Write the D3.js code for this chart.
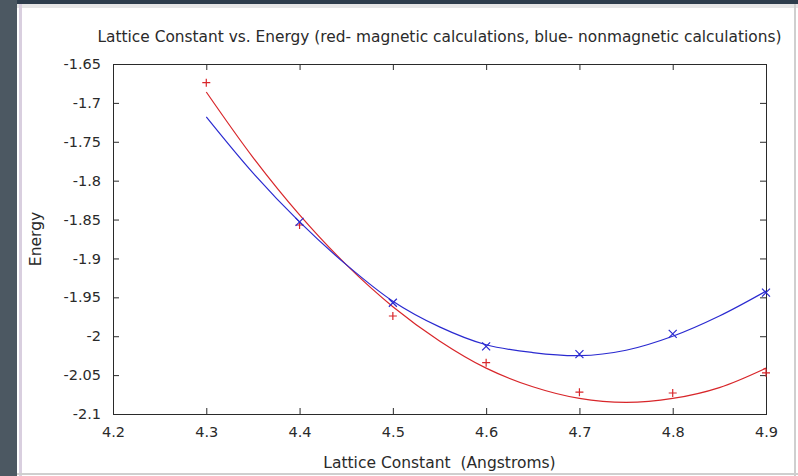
<!DOCTYPE html>
<html><head><meta charset="utf-8">
<script src="https://cdn.jsdelivr.net/npm/d3@7"></script>
<style>html,body{margin:0;padding:0;background:#fff;}svg{display:block;}</style>
</head><body>
<script>
// ---- data ----
const xTicks = [4.2, 4.3, 4.4, 4.5, 4.6, 4.7, 4.8, 4.9];
const yTicks = [-1.65, -1.7, -1.75, -1.8, -1.85, -1.9, -1.95, -2, -2.05, -2.1];
const magX = [4.3, 4.4, 4.5, 4.6, 4.7, 4.8, 4.9];
const magE = [-1.674, -1.857, -1.974, -2.034, -2.072, -2.073, -2.047];
const nonX = [4.4, 4.5, 4.6, 4.7, 4.8, 4.9];
const nonE = [-1.853, -1.957, -2.013, -2.023, -1.997, -1.944];
const fitX = [4.3, 4.35, 4.4, 4.45, 4.5, 4.55, 4.6, 4.65, 4.7, 4.75, 4.8, 4.85, 4.9];
const magFit = [-1.686, -1.770, -1.844, -1.908, -1.962, -2.006, -2.041, -2.065, -2.080, -2.085, -2.080, -2.066, -2.041];
const nonFit = [-1.718, -1.790, -1.853, -1.908, -1.955, -1.988, -2.011, -2.021, -2.025, -2.018, -2.000, -1.974, -1.942];
const title = "Lattice Constant vs. Energy (red- magnetic calculations, blue- nonmagnetic calculations)";
const xLabel = "Lattice Constant  (Angstroms)";
const yLabel = "Energy";

const W = 798, H = 476;
const L = 113, R = 766, T = 64, B = 414;
const FONT = "DejaVu Sans, sans-serif";
const red = "#d8262a", blue = "#2a2ad0";
const ink = "#2a2a2a";

const svg = d3.select("body").append("svg").attr("width", W).attr("height", H);

// window frame
svg.append("rect").attr("x",0).attr("y",0).attr("width",W).attr("height",H).attr("fill","#ffffff");
svg.append("rect").attr("x",0).attr("y",0).attr("width",W).attr("height",4).attr("fill","#2e3d4c");
svg.append("rect").attr("x",0).attr("y",0).attr("width",17).attr("height",H).attr("fill","#4c5862");
svg.append("rect").attr("x",17).attr("y",4).attr("width",W-17).attr("height",4).attr("fill","#e6e6e6");
svg.append("rect").attr("x",19).attr("y",4).attr("width",3).attr("height",H-4).attr("fill","#d9cfdf");
svg.append("rect").attr("x",794).attr("y",4).attr("width",2).attr("height",H-4).attr("fill","#cfcfcf");
svg.append("rect").attr("x",17).attr("y",473).attr("width",W-17).attr("height",2).attr("fill","#cfcfcf");

const x = d3.scaleLinear().domain([4.2, 4.9]).range([L, R]);
const y = d3.scaleLinear().domain([-2.1, -1.65]).range([B, T]);

const fmt = d => String(d);

function styleAxis(g){
  g.select(".domain").remove();
  g.selectAll(".tick line").attr("stroke",ink).attr("stroke-width",1);
  g.selectAll("text").attr("font-family",FONT).attr("font-size",14.5).attr("fill",ink);
}

svg.append("g").attr("transform",`translate(${L},0)`)
  .call(d3.axisLeft(y).tickValues(yTicks).tickFormat(fmt).tickSize(-6).tickPadding(12)).call(styleAxis);
svg.append("g").attr("transform",`translate(${R},0)`)
  .call(d3.axisRight(y).tickValues(yTicks).tickFormat("").tickSize(-6)).call(styleAxis);
svg.append("g").attr("transform",`translate(0,${B})`)
  .call(d3.axisBottom(x).tickValues(xTicks).tickFormat(fmt).tickSize(-6).tickPadding(13)).call(styleAxis);
svg.append("g").attr("transform",`translate(0,${T})`)
  .call(d3.axisTop(x).tickValues(xTicks).tickFormat("").tickSize(-6)).call(styleAxis);

svg.append("rect").attr("x",L+0.5).attr("y",T+0.5).attr("width",R-L).attr("height",B-T)
  .attr("fill","none").attr("stroke",ink).attr("stroke-width",1);

// fitted curves
const line = d3.line().x(d=>x(d[0])).y(d=>y(d[1])).curve(d3.curveCatmullRom);
svg.append("path").datum(fitX.map((v,i)=>[v,magFit[i]])).attr("d",line)
  .attr("fill","none").attr("stroke",red).attr("stroke-width",1.2);
svg.append("path").datum(fitX.map((v,i)=>[v,nonFit[i]])).attr("d",line)
  .attr("fill","none").attr("stroke",blue).attr("stroke-width",1.2);

// markers
const s = 4;
svg.append("g").selectAll("path").data(magX.map((v,i)=>[v,magE[i]])).join("path")
  .attr("d",d=>{const cx=x(d[0]),cy=y(d[1]);return `M${cx-s},${cy}H${cx+s}M${cx},${cy-s}V${cy+s}`;})
  .attr("stroke",red).attr("stroke-width",1.2).attr("fill","none");
svg.append("g").selectAll("path").data(nonX.map((v,i)=>[v,nonE[i]])).join("path")
  .attr("d",d=>{const cx=x(d[0]),cy=y(d[1]);return `M${cx-s},${cy-s}L${cx+s},${cy+s}M${cx-s},${cy+s}L${cx+s},${cy-s}`;})
  .attr("stroke",blue).attr("stroke-width",1.2).attr("fill","none");

// texts
svg.append("text").attr("x",(L+R)/2).attr("y",42).attr("text-anchor","middle")
  .attr("font-family",FONT).attr("font-size",15.5).attr("fill",ink)
  .attr("textLength",684).attr("lengthAdjust","spacingAndGlyphs").text(title);
svg.append("text").attr("x",(L+R)/2).attr("y",468).attr("text-anchor","middle")
  .attr("font-family",FONT).attr("font-size",15.5).attr("fill",ink)
  .style("white-space","pre").text(xLabel);
svg.append("text").attr("transform",`translate(41,${(T+B)/2}) rotate(-90)`).attr("text-anchor","middle")
  .attr("font-family",FONT).attr("font-size",15.5).attr("fill",ink).text(yLabel);
</script>
</body></html>
